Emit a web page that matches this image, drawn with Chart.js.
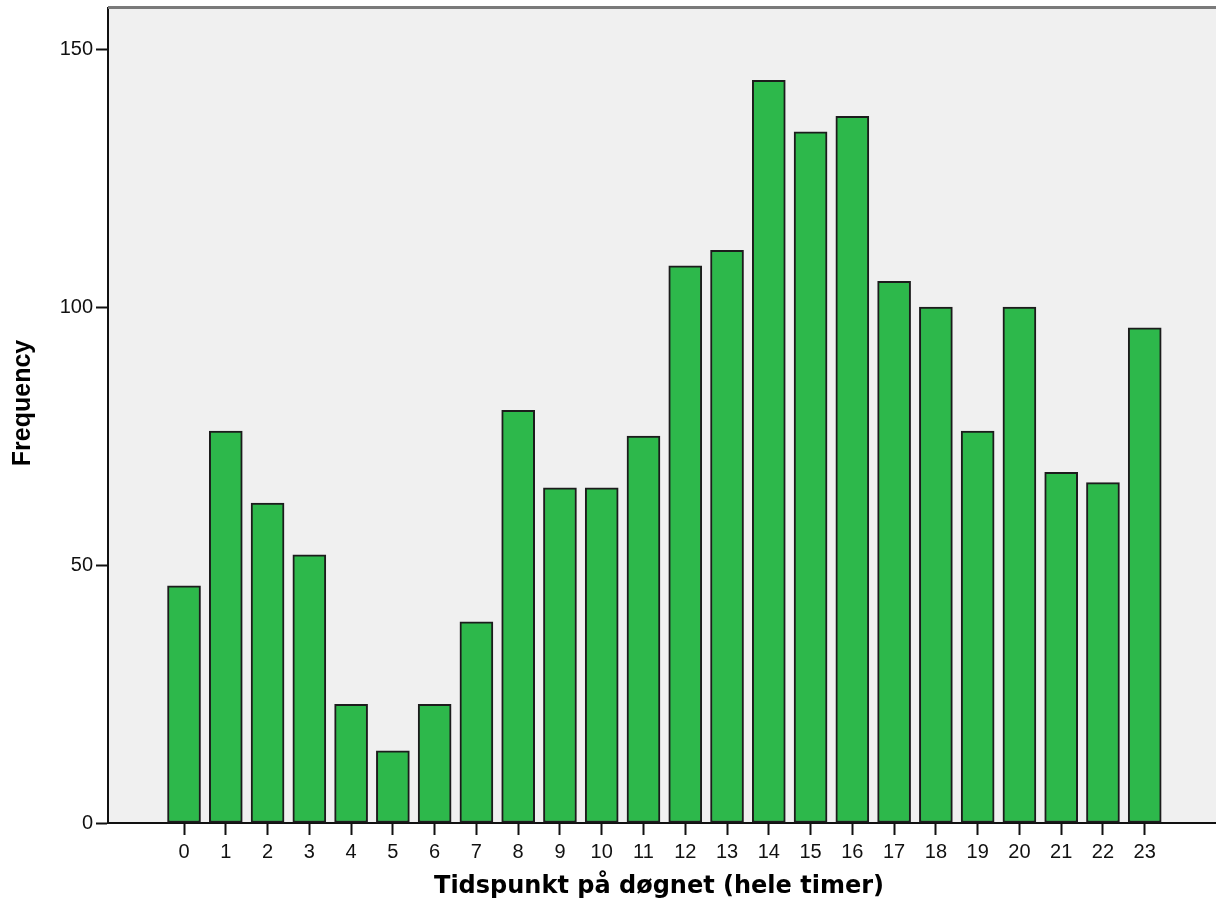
<!DOCTYPE html>
<html>
<head>
<meta charset="utf-8">
<script src="https://cdn.jsdelivr.net/npm/chart.js@4/dist/chart.umd.min.js"></script>
<style>
html,body{margin:0;padding:0;background:#fff;overflow:hidden;width:1216px;height:919px;}
canvas{display:block;}
</style>
</head>
<body>
<canvas id="c" width="1222" height="919"></canvas>
<script>
const hours = [0,1,2,3,4,5,6,7,8,9,10,11,12,13,14,15,16,17,18,19,20,21,22,23];
const frequency = [46,76,62,52,23,14,23,39,80,65,65,75,108,111,144,134,137,105,100,76,100,68,66,96];
const yTicks = [0,50,100,150];
const xTitle = 'Tidspunkt på døgnet (hele timer)';
const yTitle = 'Frequency';

const plotBg = {
  id: 'plotBg',
  beforeDraw(chart) {
    const {ctx, chartArea: a} = chart;
    ctx.save();
    ctx.fillStyle = '#f0f0f0';
    ctx.fillRect(a.left, a.top, a.right - a.left, a.bottom - a.top);
    ctx.restore();
  },
  afterDraw(chart) {
    const {ctx, chartArea: a} = chart;
    ctx.save();
    ctx.strokeStyle = '#7a7a7a';
    ctx.lineWidth = 3;
    ctx.beginPath();
    ctx.moveTo(a.left, a.top - 0.5);
    ctx.lineTo(a.right, a.top - 0.5);
    ctx.stroke();
    ctx.restore();
  }
};

new Chart(document.getElementById('c'), {
  type: 'bar',
  data: {
    datasets: [{
      data: hours.map((h, i) => ({x: h, y: frequency[i]})),
      backgroundColor: '#2db84b',
      borderColor: '#1c1c1c',
      borderWidth: 2,
      borderSkipped: false,
      barThickness: 33
    }]
  },
  options: {
    responsive: false,
    animation: false,
    layout: {padding: {top: 8, right: 0, left: 0, bottom: 0}},
    plugins: {legend: {display: false}, tooltip: {enabled: false}},
    scales: {
      x: {
        type: 'linear',
        offset: false,
        min: -1.82,
        max: 24.85,
        afterBuildTicks: s => { s.ticks = hours.map(v => ({value: v})); },
        afterFit: s => { s.height = 96; s.paddingLeft = 0; s.paddingRight = 0; },
        ticks: {
          autoSkip: false,
          maxRotation: 0,
          color: '#111',
          font: {family: 'Liberation Sans', size: 20},
          padding: 5,
          callback: v => String(v)
        },
        grid: {drawOnChartArea: false, offset: false, tickLength: 12, color: '#111', tickWidth: 2},
        border: {color: '#111', width: 2},
        title: {
          display: true,
          text: xTitle + '\u2002',
          color: '#000',
          font: {family: 'DejaVu Sans', size: 24, weight: 'bold'},
          padding: {top: 4, bottom: 18}
        }
      },
      y: {
        min: 0,
        max: 158,
        afterBuildTicks: s => { s.ticks = yTicks.map(v => ({value: v})); },
        afterFit: s => { s.width = 108; s.paddingTop = 0; s.paddingBottom = 0; },
        ticks: {
          color: '#111',
          font: {family: 'Liberation Sans', size: 20},
          padding: 3
        },
        grid: {drawOnChartArea: false, tickLength: 12, color: '#111', tickWidth: 2},
        border: {color: '#111', width: 2},
        title: {
          display: true,
          text: '\u2002\u2002' + yTitle,
          color: '#000',
          font: {family: 'Liberation Sans', size: 25, weight: 'bold'},
          padding: {top: 8, bottom: 0}
        }
      }
    }
  },
  plugins: [plotBg]
});
</script>
</body>
</html>
